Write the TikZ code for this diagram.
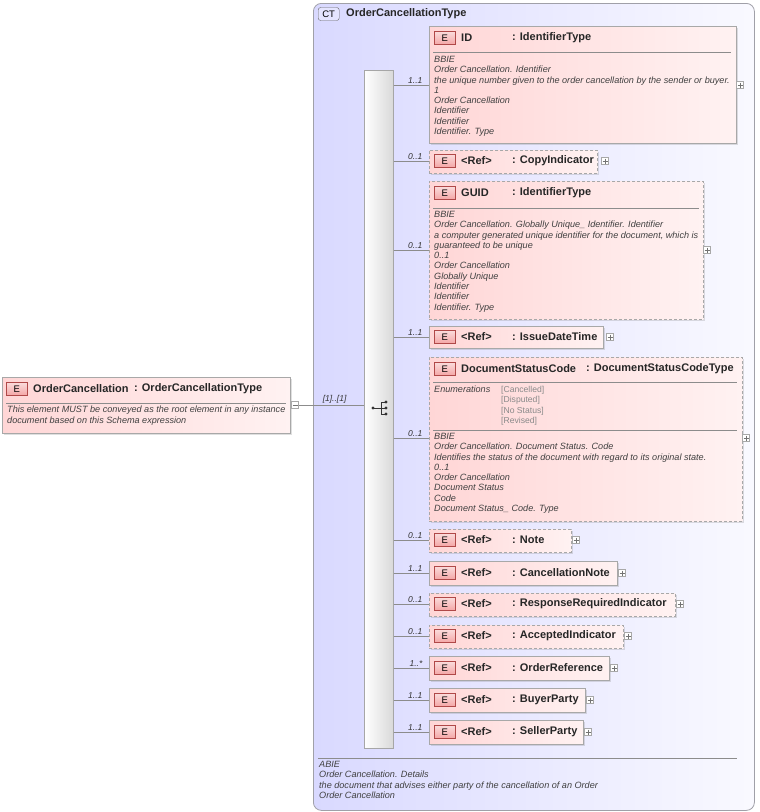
\documentclass[tikz,border=0pt]{standalone}
\usepackage{fontspec}
\setmainfont{Liberation Sans}
\usetikzlibrary{shadows}
\definecolor{ctfill}{HTML}{D9D9FF}
\definecolor{ctline}{HTML}{A0A0A8}
\definecolor{epink}{HTML}{FFD6D6}
\definecolor{epinkr}{HTML}{FFF2F2}
\definecolor{eline}{HTML}{A8A8A8}
\definecolor{badgef}{HTML}{F4A6A6}
\definecolor{badgel}{HTML}{B04848}
\definecolor{txt}{HTML}{404040}
\definecolor{enumc}{HTML}{8A8A8A}
\tikzset{
  box/.style={draw=eline, line width=0.8pt, left color=epink, right color=epinkr, anchor=north west, inner sep=0pt, drop shadow={opacity=0.25, shadow xshift=1.5pt, shadow yshift=-1.5pt}},
  dbox/.style={box, dashed, dash pattern=on 3pt off 2pt},
  badge/.style={draw=badgel, line width=0.6pt, top color=badgef!40, bottom color=badgef, minimum width=21pt, minimum height=13pt, inner sep=0pt, font=\fontsize{9.5}{9.5}\selectfont, anchor=west},
  hdr/.style={font=\fontsize{11}{12}\selectfont\bfseries, text=black!85, anchor=west, inner sep=0pt},
  desc/.style={font=\fontsize{9.1}{10.3}\selectfont\itshape, text=txt, anchor=north west, align=left, inner sep=0pt},
  card/.style={font=\fontsize{8.5}{9}\selectfont\itshape, text=black!80, anchor=south east, inner sep=1pt},
  plus/.style={draw=eline, fill=white, minimum size=7pt, inner sep=0pt, line width=0.5pt},
  conn/.style={draw=black!45, line width=0.6pt},
  sep/.style={draw=black!45, line width=0.6pt}
}
\newcommand\plusbox[3]{\node[plus] (#1) at (#2,#3) {}; \draw[black!55,line width=0.4pt] (#2-2.5,#3) -- (#2+2.5,#3) (#2,#3-2.5) -- (#2,#3+2.5);}
\begin{document}
\begin{tikzpicture}[x=1pt,y=-1pt]
\useasboundingbox (0,0) rectangle (760,812);
% CT container
\node[draw=ctline, line width=0.8pt, rounded corners=8pt, left color=ctfill, right color=ctfill!15, anchor=north west, minimum width=441pt, minimum height=807pt, inner sep=0pt] (ct) at (313,3) {};
\node[draw=black!60, fill=ctfill!70, rounded corners=2.5pt, minimum width=21pt, minimum height=13pt, inner sep=0pt, font=\fontsize{9.5}{9.5}\selectfont, anchor=west] (ctb) at (318,14) {CT};
\node[hdr, anchor=west] (ctt) at (346,14) {OrderCancellationType};
\draw[sep] (318,758) -- (737,758);
\node[desc] (ctd) at (319,761) {ABIE\\Order Cancellation. Details\\the document that advises either party of the cancellation of an Order\\Order Cancellation};
% sequence bar
\node[draw=black!35, line width=0.6pt, left color=white, right color=black!15, anchor=north west, minimum width=29pt, minimum height=678pt, inner sep=0pt] (seq) at (364,70) {};
\fill[black!80] (373,408) circle (1.6pt);
\draw[black!80,line width=0.9pt] (373,408) -- (381,408) (381,402) -- (381,414) (381,402) -- (386,402) (381,408) -- (386,408) (381,414) -- (386,414);
\fill[black!80] (386,402) circle (1.7pt) (386,408) circle (1.7pt) (386,414) circle (1.7pt);
% root
\node[box, minimum width=288pt, minimum height=56pt] (root) at (2,377) {};
\node[badge] at (6,389) {E};
\node[hdr] at (33,389) {OrderCancellation};
\node[hdr] at (134,389) {: OrderCancellationType};
\draw[sep] (6,403) -- (286,403);
\node[desc] at (7,406) {This element MUST be conveyed as the root element in any instance\\document based on this Schema expression};
\node[plus] (rm) at (295,405) {};
\draw[black!55,line width=0.4pt] (292.5,405) -- (297.5,405);
\draw[conn] (rm.east) -- (seq.west |- rm.east) node[card, pos=0.75] {[1]..[1]};
% 1 ID
\node[box, minimum width=307pt, minimum height=117pt] (c1) at (429,26) {};
\node[badge] at (434,38) {E}; \node[hdr] at (461,38) {ID}; \node[hdr] at (512,38) {: IdentifierType};
\draw[sep] (433,52) -- (731,52);
\node[desc] at (434,56) {BBIE\\Order Cancellation. Identifier\\the unique number given to the order cancellation by the sender or buyer.\\1\\Order Cancellation\\Identifier\\Identifier\\Identifier. Type};
\plusbox{p1}{740}{85}
\draw[conn] (seq.east |- 0,85) -- (c1.west |- 0,85) node[card,pos=0.85] {1..1};
% 2
\node[dbox, minimum width=168pt, minimum height=23pt] (c2) at (429,150) {};
\node[badge] at (434,161) {E}; \node[hdr] at (461,161) {<Ref>}; \node[hdr] at (512,161) {: CopyIndicator};
\plusbox{p2}{605}{161}
\draw[conn] (seq.east |- 0,161) -- (c2.west |- 0,161) node[card,pos=0.85] {0..1};
% 3 GUID
\node[dbox, minimum width=274pt, minimum height=138pt] (c3) at (429,181) {};
\node[badge] at (434,193) {E}; \node[hdr] at (461,193) {GUID}; \node[hdr] at (512,193) {: IdentifierType};
\draw[sep] (433,208) -- (699,208);
\node[desc] at (434,211) {BBIE\\Order Cancellation. Globally Unique\_ Identifier. Identifier\\a computer generated unique identifier for the document, which is\\guaranteed to be unique\\0..1\\Order Cancellation\\Globally Unique\\Identifier\\Identifier\\Identifier. Type};
\plusbox{p3}{707}{250}
\draw[conn] (seq.east |- 0,250) -- (c3.west |- 0,250) node[card,pos=0.85] {0..1};
% 4
\node[box, minimum width=174pt, minimum height=22pt] (c4) at (429,326) {};
\node[badge] at (434,337) {E}; \node[hdr] at (461,337) {<Ref>}; \node[hdr] at (512,337) {: IssueDateTime};
\plusbox{p4}{610}{337}
\draw[conn] (seq.east |- 0,337) -- (c4.west |- 0,337) node[card,pos=0.85] {1..1};
% 5
\node[dbox, minimum width=313pt, minimum height=164pt] (c5) at (429,357) {};
\node[badge] at (434,369) {E}; \node[hdr] at (461,369) {DocumentStatusCode}; \node[hdr] at (586,369) {: DocumentStatusCodeType};
\draw[sep] (433,382) -- (737,382);
\node[desc] at (434,386) {Enumerations};
\node[desc, font=\fontsize{8.6}{10.3}\selectfont, text=enumc] at (501,386) {{[Cancelled]}\\{[Disputed]}\\{[No Status]}\\{[Revised]}};
\draw[sep] (433,430) -- (737,430);
\node[desc] at (434,433) {BBIE\\Order Cancellation. Document Status. Code\\Identifies the status of the document with regard to its original state.\\0..1\\Order Cancellation\\Document Status\\Code\\Document Status\_ Code. Type};
\plusbox{p5}{746}{438}
\draw[conn] (seq.east |- 0,438) -- (c5.west |- 0,438) node[card,pos=0.85] {0..1};
% 6
\node[dbox, minimum width=142pt, minimum height=23pt] (c6) at (429,529) {};
\node[badge] at (434,540) {E}; \node[hdr] at (461,540) {<Ref>}; \node[hdr] at (512,540) {: Note};
\plusbox{p6}{576}{540}
\draw[conn] (seq.east |- 0,540) -- (c6.west |- 0,540) node[card,pos=0.85] {0..1};
% 7
\node[box, minimum width=188pt, minimum height=24pt] (c7) at (429,561) {};
\node[badge] at (434,573) {E}; \node[hdr] at (461,573) {<Ref>}; \node[hdr] at (512,573) {: CancellationNote};
\plusbox{p7}{622}{573}
\draw[conn] (seq.east |- 0,573) -- (c7.west |- 0,573) node[card,pos=0.85] {1..1};
% 8
\node[dbox, minimum width=246pt, minimum height=23pt] (c8) at (429,593) {};
\node[badge] at (434,604) {E}; \node[hdr] at (461,604) {<Ref>}; \node[hdr] at (512,604) {: ResponseRequiredIndicator};
\plusbox{p8}{680}{604}
\draw[conn] (seq.east |- 0,604) -- (c8.west |- 0,604) node[card,pos=0.85] {0..1};
% 9
\node[dbox, minimum width=194pt, minimum height=23pt] (c9) at (429,625) {};
\node[badge] at (434,636) {E}; \node[hdr] at (461,636) {<Ref>}; \node[hdr] at (512,636) {: AcceptedIndicator};
\plusbox{p9}{628}{636}
\draw[conn] (seq.east |- 0,636) -- (c9.west |- 0,636) node[card,pos=0.85] {0..1};
% 10
\node[box, minimum width=180pt, minimum height=24pt] (c10) at (429,656) {};
\node[badge] at (434,668) {E}; \node[hdr] at (461,668) {<Ref>}; \node[hdr] at (512,668) {: OrderReference};
\plusbox{p10}{614}{668}
\draw[conn] (seq.east |- 0,668) -- (c10.west |- 0,668) node[card,pos=0.85] {1..*};
% 11
\node[box, minimum width=156pt, minimum height=24pt] (c11) at (429,688) {};
\node[badge] at (434,700) {E}; \node[hdr] at (461,700) {<Ref>}; \node[hdr] at (512,700) {: BuyerParty};
\plusbox{p11}{590}{700}
\draw[conn] (seq.east |- 0,700) -- (c11.west |- 0,700) node[card,pos=0.85] {1..1};
% 12
\node[box, minimum width=154pt, minimum height=24pt] (c12) at (429,720) {};
\node[badge] at (434,732) {E}; \node[hdr] at (461,732) {<Ref>}; \node[hdr] at (512,732) {: SellerParty};
\plusbox{p12}{588}{732}
\draw[conn] (seq.east |- 0,732) -- (c12.west |- 0,732) node[card,pos=0.85] {1..1};
\end{tikzpicture}
\end{document}
